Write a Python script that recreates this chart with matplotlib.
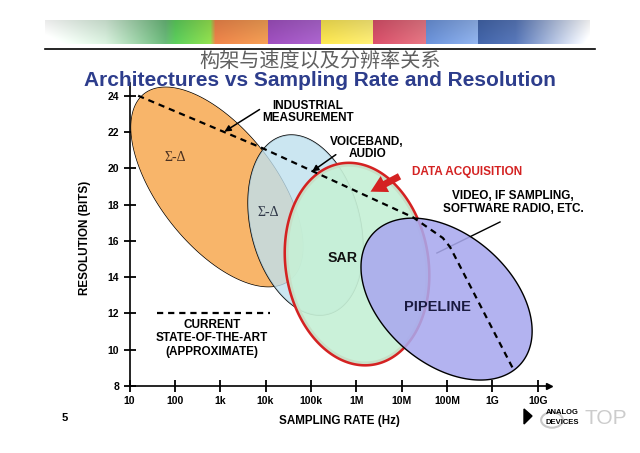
import numpy as np
import matplotlib
matplotlib.use('Agg')
import matplotlib.pyplot as plt
from matplotlib.patches import Polygon, Circle

# ---------------- data ----------------
tick_freqs = [10, 100, 1e3, 1e4, 1e5, 1e6, 1e7, 1e8, 1e9, 1e10]
tick_labels = ['10', '100', '1k', '10k', '100k', '1M', '10M', '100M', '1G', '10G']
bit_ticks = [8, 10, 12, 14, 16, 18, 20, 22, 24]

# current state-of-the-art (dashed line)
sota_freq = [15.5, 8.7e3, 17.8e6, 81e6, 117e6, 2.8e9]
sota_bits = [24.0, 21.1, 17.3, 16.16, 15.66, 9.0]

# architecture regions: centre (Hz, bits)
region_labels = ['Σ-Δ', 'Σ-Δ', 'SAR', 'PIPELINE']
region_center_freq = [849, 7.6e4, 1.04e6, 9.8e7]
region_center_bits = [18.97, 16.87, 14.72, 12.79]

# ---------------- styling / geometry ----------------
region_shape_px = [(118, 58, 52), (91.8, 54.6, 76), (100.6, 70.1, 81), (98.5, 64.6, 41)]
region_fill = ['#f8b56a', '#bfe0ee', '#c6f0d6', '#a9a9ee']
region_alpha = [1.0, 0.8, 0.92, 0.88]
region_edge = ['black', 'black', '#d42222', 'black']
region_lw = [1.0, 1.0, 3.7, 1.0]

fig = plt.figure(figsize=(6.4, 4.53), dpi=100)
fig.patch.set_facecolor('white')

W, H = 640.0, 453.0
def fx(px):
    return px / W
def fy(py):
    return 1 - py / H

# ---------------- header banner ----------------
bax = fig.add_axes([fx(45), fy(44), fx(590) - fx(45), fy(20) - fy(44)])
bax.set_axis_off()
ncol = 545
cols = np.ones((1, ncol, 3))
stops = [(0, (1, 1, 1)), (60, (0.82, 0.91, 0.84)), (120, (0.40, 0.70, 0.46)),
         (130, (0.35, 0.78, 0.35)), (165, (0.55, 0.85, 0.30)), (170, (0.90, 0.50, 0.28)),
         (222, (0.92, 0.60, 0.32)), (223, (0.60, 0.30, 0.72)), (275, (0.65, 0.38, 0.78)),
         (276, (0.95, 0.87, 0.30)), (327, (0.96, 0.90, 0.45)), (328, (0.82, 0.30, 0.40)),
         (380, (0.87, 0.45, 0.50)), (381, (0.40, 0.55, 0.82)), (432, (0.55, 0.68, 0.90)),
         (433, (0.25, 0.38, 0.64)), (470, (0.33, 0.45, 0.70)), (545, (1, 1, 1))]
sx = [s[0] for s in stops]
for c in range(3):
    cols[0, :, c] = np.interp(np.arange(ncol), sx, [s[1][c] for s in stops])
img = np.repeat(cols, 24, axis=0)
shade = np.linspace(0.92, 1.05, 24)[:, None, None]
img = np.clip(img * shade, 0, 1)
bax.imshow(img, aspect='auto', extent=(0, 1, 0, 1))
bax.set_xlim(0, 1); bax.set_ylim(0, 1)

fig.add_artist(plt.Line2D([fx(45), fx(595)], [fy(49), fy(49)], color='black', lw=1.2))

# ---------------- titles ----------------
fig.text(0.5, fy(61), '构架与速度以及分辨率关系', ha='center', va='center',
         fontsize=14.5, color='#606060', family=['Noto Sans CJK SC', 'DejaVu Sans'])
fig.text(0.5, fy(80), 'Architectures vs Sampling Rate and Resolution', ha='center',
         va='center', fontsize=15, fontweight='bold', color='#2d3d8c',
         family='Liberation Sans')

# ---------------- main axes ----------------
x0, x1 = 129.5, 549.0
y0, y1 = 386.0, 83.0
ax = fig.add_axes([fx(x0), fy(y0), fx(x1) - fx(x0), fy(y1) - fy(y0)])
ax.set_xscale('log')
ax.set_xlim(10, 10 ** 10.25)
ax.set_ylim(8, 24.7)
ax.patch.set_alpha(0)
for s in ['top', 'right']:
    ax.spines[s].set_visible(False)
for s in ['left', 'bottom']:
    ax.spines[s].set_linewidth(1.2)
ax.set_xticks(tick_freqs)
ax.set_xticklabels(tick_labels)
ax.xaxis.set_minor_locator(matplotlib.ticker.NullLocator())
ax.set_yticks(bit_ticks)
ax.tick_params(direction='inout', length=9, width=1.3, labelsize=7.5, pad=3)
for lab in ax.get_xticklabels() + ax.get_yticklabels():
    lab.set_fontweight('bold')
    lab.set_family('Liberation Sans')
ax.plot(1, 0, marker='>', color='black', ms=5, transform=ax.transAxes, clip_on=False)

ax.set_xlabel('SAMPLING RATE (Hz)', fontsize=8.4, fontweight='bold',
              family='Liberation Sans', labelpad=6)
ax.set_ylabel('RESOLUTION (BITS)', fontsize=8.4, fontweight='bold',
              family='Liberation Sans')
ax.yaxis.set_label_coords(-(x0 - 91) / (x1 - x0), 0.49)

def ellipse_pts(f, b_, a, b, ang):
    cx, cy = ax.transData.transform((f, b_))
    t = np.linspace(0, 2 * np.pi, 400)
    th = np.deg2rad(ang)
    ux, uy = np.cos(th), -np.sin(th)
    vx, vy = np.sin(th), np.cos(th)
    px = cx + a * np.cos(t) * ux + b * np.sin(t) * vx
    py = cy + a * np.cos(t) * uy + b * np.sin(t) * vy
    return ax.transData.inverted().transform(np.c_[px, py])

for i in range(4):
    a, b, ang = region_shape_px[i]
    pts = ellipse_pts(region_center_freq[i], region_center_bits[i], a, b, ang)
    ax.add_patch(Polygon(pts, closed=True, facecolor=region_fill[i], alpha=region_alpha[i],
                         edgecolor='none', zorder=2 + i))
    ax.add_patch(Polygon(pts, closed=True, facecolor='none', edgecolor=region_edge[i],
                         lw=region_lw[i], zorder=2 + i - 0.01 if i < 3 else 2 + i))

# region labels
ax.text(100, 20.57, 'Σ-Δ', ha='center', va='center', fontsize=10, color='#4a3020',
        family='Liberation Serif', zorder=12)
ax.text(1.12e4, 17.59, 'Σ-Δ', ha='center', va='center', fontsize=10, color='#303848',
        family='Liberation Serif', zorder=12)
ax.text(5.1e5, 15.05, 'SAR', ha='center', va='center', fontsize=10.2, fontweight='bold',
        family='Liberation Sans', color='#111111', zorder=12)
ax.text(6.3e7, 12.35, 'PIPELINE', ha='center', va='center', fontsize=10.5,
        fontweight='bold', family='Liberation Sans', color='#1a1a40', zorder=12)

# state-of-the-art dashed line
ax.plot(sota_freq, sota_bits, color='black', lw=1.6, ls=(0, (2.8, 2.2)), zorder=10)
ax.plot([40.5, 1.26e4], [12, 12], color='black', lw=1.6, ls=(0, (2.8, 2.2)), zorder=10)
ax.text(661, 10.63, 'CURRENT\nSTATE-OF-THE-ART\n(APPROXIMATE)', ha='center', va='center',
        fontsize=8.5, fontweight='bold', family='Liberation Sans', linespacing=1.15,
        zorder=12)

# annotations
lab_kw = dict(ha='center', va='center', fontsize=8.5, fontweight='bold',
              family='Liberation Sans', linespacing=1.1, zorder=12)
ax.text(8.7e4, 23.1, 'INDUSTRIAL\nMEASUREMENT', **lab_kw)
ax.annotate('', xy=(1.1e3, 21.94), xytext=(8.3e3, 23.32),
            arrowprops=dict(arrowstyle='-|>', lw=1.1, color='black', mutation_scale=9),
            zorder=12)
ax.text(1.74e6, 21.12, 'VOICEBAND,\nAUDIO', **lab_kw)
ax.annotate('', xy=(9.5e4, 19.74), xytext=(3.98e5, 20.84),
            arrowprops=dict(arrowstyle='-|>', lw=1.1, color='black', mutation_scale=9),
            zorder=12)
ax.text(2.75e8, 19.79, 'DATA ACQUISITION', ha='center', va='center', fontsize=8.5,
        fontweight='bold', family='Liberation Sans', color='#d42222', zorder=12)
ax.annotate('', xy=(1.82e6, 18.64), xytext=(1.02e7, 19.63),
            arrowprops=dict(arrowstyle='simple,head_length=0.9,head_width=1.0,tail_width=0.38',
                            color='#d42222', mutation_scale=13, lw=0),
            zorder=12)
ax.text(2.9e9, 18.13, 'VIDEO, IF SAMPLING,\nSOFTWARE RADIO, ETC.', **lab_kw)
ax.plot([1.48e9, 6.0e7], [17.04, 15.33], color='black', lw=1.0, zorder=4.5)

# ---------------- footer ----------------
fig.text(fx(65), fy(418), '5', ha='center', va='center', fontsize=8, fontweight='bold',
         family='Liberation Sans')
fig.add_artist(Polygon([[fx(524), fy(409)], [fx(532), fy(416)], [fx(524), fy(424)]],
                       closed=True, color='black', transform=fig.transFigure))
fig.text(fx(562), fy(413), 'ANALOG', ha='center', va='center', fontsize=5.5,
         fontweight='bold', family='Liberation Sans')
fig.text(fx(562), fy(423), 'DEVICES', ha='center', va='center', fontsize=5.5,
         fontweight='bold', family='Liberation Sans')
fig.add_artist(Circle((fx(552), fy(420)), 0.017, fill=False, ec='#c8c8c8', lw=1.5,
                      transform=fig.transFigure))
fig.text(fx(606), fy(418), 'TOP', ha='center', va='center', fontsize=15,
         color='#cccccc', family='Liberation Sans')

fig.savefig('out.png', dpi=100)
